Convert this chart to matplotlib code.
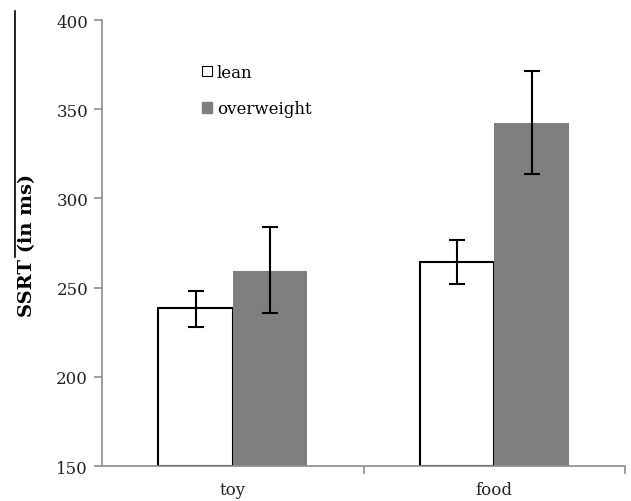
import matplotlib
matplotlib.use("agg")
import matplotlib.pyplot as plt
from matplotlib.patches import Patch
from matplotlib.lines import Line2D
import numpy as np

categories = ["toy", "food"]
lean = [238.4, 264.5]
lean_err_low = [228.1, 252.0]
lean_err_high = [248.3, 276.7]
overweight = [259.5, 342.3]
over_err_low = [235.8, 313.7]
over_err_high = [283.8, 371.4]

plt.rcParams["font.family"] = ["DejaVu Serif"]

fig = plt.figure(figsize=(6.31, 5.02), dpi=100)
ax = fig.add_axes([0.1617, 0.0697, 0.8288, 0.8884])

x = np.arange(len(categories))
w = 0.285
axis_gray = "#8c8c8c"

lean_yerr = [np.array(lean) - np.array(lean_err_low), np.array(lean_err_high) - np.array(lean)]
over_yerr = [np.array(overweight) - np.array(over_err_low), np.array(over_err_high) - np.array(overweight)]

ax.bar(x - w / 2, np.array(lean) - 150, w, bottom=150, color="white", edgecolor="black",
       linewidth=1.5, label="lean", zorder=2)
ax.bar(x + w / 2, np.array(overweight) - 150, w, bottom=150, color="#7f7f7f",
       linewidth=0, label="overweight", zorder=2)
ax.errorbar(x - w / 2, lean, yerr=lean_yerr, fmt="none", ecolor="black",
            elinewidth=1.5, capsize=6, capthick=1.5, zorder=3)
ax.errorbar(x + w / 2, overweight, yerr=over_yerr, fmt="none", ecolor="black",
            elinewidth=1.5, capsize=6, capthick=1.5, zorder=3)

ax.set_xlim(-0.5, 1.5)
ax.set_ylim(150, 400)
ax.set_yticks([150, 200, 250, 300, 350, 400])
ax.set_xticks(x)
ax.set_xticklabels(categories)
ax.set_xticks([0.5, 1.5], minor=True)
ax.tick_params(axis="x", which="major", length=0, pad=11, labelsize=12, colors="#222222")
ax.tick_params(axis="x", which="minor", length=6, color=axis_gray, width=1.2)
ax.tick_params(axis="y", length=6, color=axis_gray, width=1.2, labelsize=12, pad=4,
               labelcolor="#222222")

for s in ["top", "right"]:
    ax.spines[s].set_visible(False)
for s in ["left", "bottom"]:
    ax.spines[s].set_color(axis_gray)
    ax.spines[s].set_linewidth(1.2)

fig.text(27 / 631, 1 - 245 / 502, "SSRT (in ms)", rotation=90, ha="center", va="center",
         fontsize=14, fontweight="bold")

handles = [Patch(facecolor="white", edgecolor="black", linewidth=0.8, label="lean"),
           Patch(facecolor="#7f7f7f", edgecolor="#7f7f7f", label="overweight")]
ax.legend(handles=handles, loc="upper left", bbox_to_anchor=(0.162, 0.935), frameon=False,
          fontsize=12, handlelength=0.6, handleheight=0.6, handletextpad=0.3,
          labelspacing=1.15)

fig.add_artist(Line2D([0.024, 0.024], [0.976, 0.486], color="black", linewidth=1.2))

fig.savefig("out.png")
